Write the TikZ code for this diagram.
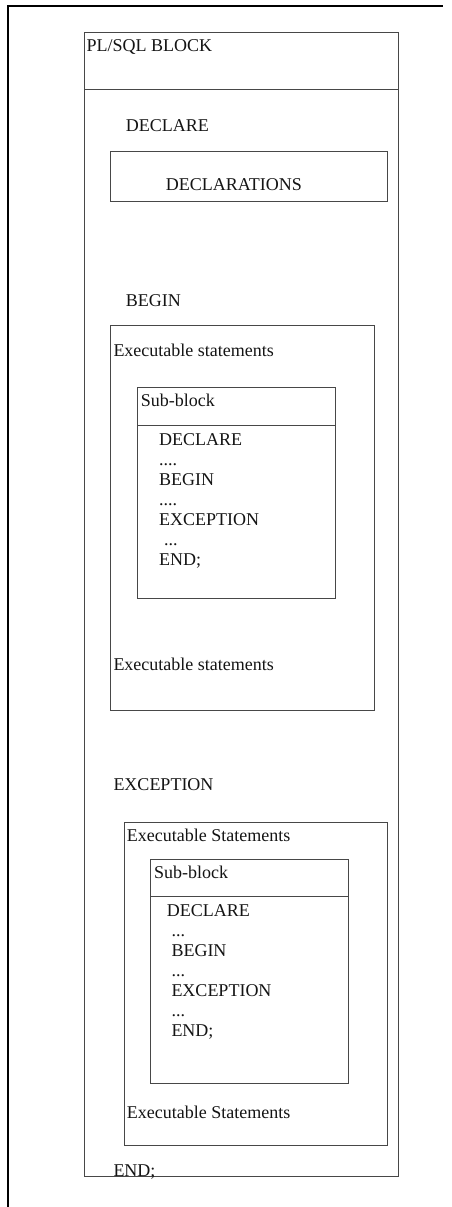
\documentclass[tikz,border=0pt]{standalone}
\usepackage{fontspec}
\setmainfont{Liberation Serif}
\begin{document}
\begin{tikzpicture}[x=1pt,y=-1pt,
  pageframe/.style={line width=2pt, black},
  boxline/.style={draw=black!72, line width=0.9pt},
  lbl/.style={anchor=base west, inner sep=0pt, font=\fontsize{18}{20}\selectfont, text=black!92}]
\useasboundingbox (0,0) rectangle (452,1207);

% page frame (left and top edges)
\coordinate (fbl) at (8.3,1207);
\coordinate (ftl) at (8.3,5.7);
\coordinate (ftr) at (443,5.7);
\draw[pageframe] (fbl) -- (ftl) -- (ftr);

% outer PL/SQL block with its header
\draw[boxline] (84,32.5) rectangle (398.7,1176.7);
\draw[boxline] (84,89) -- (398.7,89);
\node[lbl] (title) at (86.5,52) {PL/SQL BLOCK};

% declaration section
\node[lbl] (decl) at (125.7,131.7) {DECLARE};
\draw[boxline] (110.7,151.7) rectangle (387.7,201);
\node[lbl] (decls) at (165.7,190.7) {DECLARATIONS};

% executable section
\node[lbl] (begin) at (125.7,306) {BEGIN};
\draw[boxline] (110.7,325.7) rectangle (374.3,710);
\node[lbl] (exa) at (113.3,356) {Executable statements};
\draw[boxline] (137.3,387.7) rectangle (335,598.7);
\draw[boxline] (137.3,425) -- (335,425);
\node[lbl] (suba) at (140.7,406) {Sub-block};
\node[lbl] (sa1) at (159,445) {DECLARE};
\node[lbl] (sa2) at (159,465) {....};
\node[lbl] (sa3) at (159,485) {BEGIN};
\node[lbl] (sa4) at (159,505) {....};
\node[lbl] (sa5) at (159,525) {EXCEPTION};
\node[lbl] (sa6) at (164,545) {...};
\node[lbl] (sa7) at (159,565) {END;};
\node[lbl] (exb) at (113.3,670) {Executable statements};

% exception section
\node[lbl] (exc) at (113.3,790.7) {EXCEPTION};
\draw[boxline] (124,822.3) rectangle (387.7,1145);
\node[lbl] (exc1) at (126.7,841) {Executable Statements};
\draw[boxline] (150.7,859.7) rectangle (348.3,1083.3);
\draw[boxline] (150.7,896.7) -- (348.3,896.7);
\node[lbl] (subb) at (154,878.3) {Sub-block};
\node[lbl] (sb1) at (166.7,916.7) {DECLARE};
\node[lbl] (sb2) at (171.3,936.7) {...};
\node[lbl] (sb3) at (171.3,956.7) {BEGIN};
\node[lbl] (sb4) at (171.3,976.7) {...};
\node[lbl] (sb5) at (171.3,996.7) {EXCEPTION};
\node[lbl] (sb6) at (171.3,1016.7) {...};
\node[lbl] (sb7) at (171.3,1036.7) {END;};
\node[lbl] (exc2) at (126.7,1118.3) {Executable Statements};

% closing keyword sitting on the block's bottom edge
\node[lbl] (fin) at (113.3,1176) {END;};
\end{tikzpicture}
\end{document}
